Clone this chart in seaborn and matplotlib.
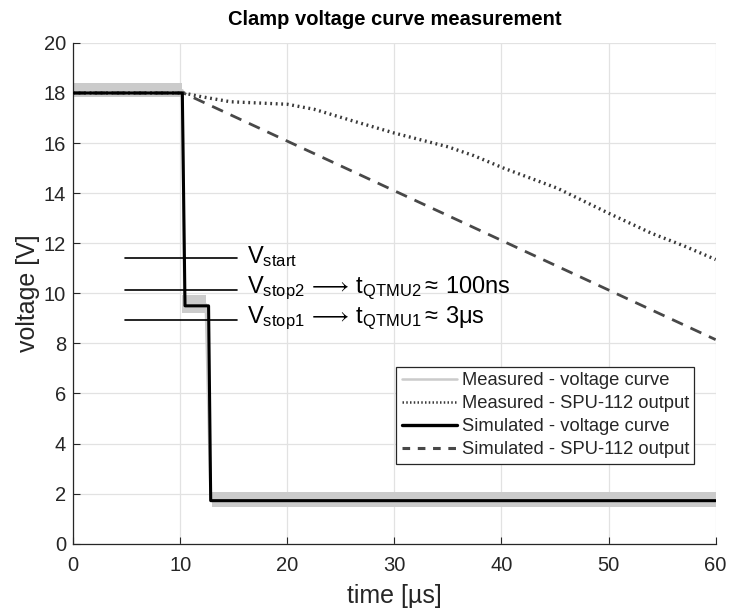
import matplotlib
matplotlib.use("Agg")
import matplotlib.pyplot as plt
import seaborn as sns
import pandas as pd
from matplotlib.lines import Line2D

# --- data -------------------------------------------------------------
# measured clamp voltage: centre of the trace and its noise envelope
meas_t = [0.0, 10.2, 10.4, 12.4, 12.85, 60.0]
meas_v = [18.1, 18.1, 9.55, 9.55, 1.75, 1.75]
band_t = [0.0, 10.2, 10.2, 10.4, 10.4, 12.4, 12.4, 13.0, 13.0, 60.0]
band_hi = [18.4, 18.4, 9.95, 9.95, 9.95, 9.95, 1.3, 1.3, 2.05, 2.05]
band_lo = [17.85, 17.85, 9.2, 9.2, 9.2, 9.2, 1.3, 1.3, 1.45, 1.45]

# simulated clamp voltage
sim_t = [0.0, 10.2, 10.45, 12.65, 12.85, 60.0]
sim_v = [18.0, 18.0, 9.5, 9.5, 1.72, 1.72]

# measured SPU-112 output
spu_meas_t = [0.0, 10.3, 12.0, 14.7, 20.0, 22.5, 26.0, 30.0, 35.0, 37.4,
              40.2, 42.7, 45.2, 50.0, 54.0, 57.0, 60.0]
spu_meas_v = [18.0, 18.0, 17.85, 17.65, 17.55, 17.35, 16.9, 16.4, 15.85, 15.5,
              15.0, 14.6, 14.2, 13.2, 12.4, 11.9, 11.35]

# simulated SPU-112 output
spu_sim_t = [0.0, 10.3, 60.0]
spu_sim_v = [18.0, 18.0, 8.15]

# threshold markers
level_names = [r"$\mathregular{V_{start}}$",
               r"$\mathregular{V_{stop2}\,\longrightarrow\,t_{QTMU2}\approx\,100ns}$",
               r"$\mathregular{V_{stop1}\,\longrightarrow\,t_{QTMU1}\approx\,3\mu s}$"]
level_values = [11.4, 10.15, 8.95]
level_span = [4.85, 15.3]

x_ticks = [0, 10, 20, 30, 40, 50, 60]
y_ticks = [0, 2, 4, 6, 8, 10, 12, 14, 16, 18, 20]

legend_labels = ["Measured - voltage curve", "Measured - SPU-112 output",
                 "Simulated - voltage curve", "Simulated - SPU-112 output"]

# --- style ------------------------------------------------------------
sns.set_theme(style="whitegrid")
plt.rcParams["font.family"] = ["Liberation Sans", "DejaVu Sans"]
plt.rcParams["mathtext.fontset"] = "custom"
plt.rcParams["mathtext.rm"] = "Liberation Sans"
plt.rcParams["mathtext.it"] = "Liberation Sans:italic"
plt.rcParams["mathtext.fallback"] = "stixsans"

fig = plt.figure(figsize=(7.31, 6.13), dpi=100)
ax = fig.add_axes([0.1, 0.113, 0.879, 0.817])

dark = "#262626"
gray_line = "#3a3a3a"
meas_gray = "#cbcbcb"

df_meas = pd.DataFrame({"t": meas_t, "v": meas_v})
df_sim = pd.DataFrame({"t": sim_t, "v": sim_v})
df_spu_m = pd.DataFrame({"t": spu_meas_t, "v": spu_meas_v})
df_spu_s = pd.DataFrame({"t": spu_sim_t, "v": spu_sim_v})

ax.fill_between(band_t, band_lo, band_hi, color=meas_gray, linewidth=0,
                zorder=2)
sns.lineplot(data=df_meas, x="t", y="v", ax=ax, color=meas_gray,
             linewidth=2, estimator=None, sort=False, zorder=2)
sns.lineplot(data=df_spu_m, x="t", y="v", ax=ax, color=gray_line,
             linewidth=2.4, linestyle=(0, (0.55, 1.1)), estimator=None,
             sort=False, zorder=3)
sns.lineplot(data=df_spu_s, x="t", y="v", ax=ax, color="#484848",
             linewidth=2.0, linestyle=(0, (4.3, 3.0)), estimator=None,
             sort=False, zorder=3)
sns.lineplot(data=df_sim, x="t", y="v", ax=ax, color="black",
             linewidth=2.2, estimator=None, sort=False, zorder=4)

for name, val in zip(level_names, level_values):
    ax.plot(level_span, [val, val], color="black", linewidth=1.2, zorder=5)
    ax.text(level_span[1] + 0.9, val + 0.05, name, fontsize=17,
            ha="left", va="center", color="black", zorder=6)

ax.set_xlim(0, 60)
ax.set_ylim(0, 20)
ax.set_xticks(x_ticks)
ax.set_yticks(y_ticks)
ax.tick_params(axis="both", direction="in", length=5, width=0.8,
               colors=dark, labelsize=14.5, pad=9,
               bottom=True, left=True, top=False, right=False)
ax.tick_params(axis="y", pad=5)
ax.grid(True, color="#e2e2e2", linewidth=0.9)
for side in ["top", "right"]:
    ax.spines[side].set_visible(False)
for side in ["left", "bottom"]:
    ax.spines[side].set_color(dark)
    ax.spines[side].set_linewidth(0.9)

ax.set_xlabel("time [µs]", fontsize=18, color=dark, labelpad=6)
ax.set_ylabel("voltage [V]", fontsize=18, color=dark, labelpad=3)
ax.set_title("Clamp voltage curve measurement", fontsize=14.5,
             fontweight="bold", color="black", pad=13)

handles = [
    Line2D([], [], color=meas_gray, linewidth=1.8),
    Line2D([], [], color=gray_line, linewidth=1.8, linestyle=(0, (0.6, 0.9))),
    Line2D([], [], color="black", linewidth=2.4),
    Line2D([], [], color="#484848", linewidth=2.2, linestyle=(0, (2.5, 2.5))),
]
leg = ax.legend(handles, legend_labels, loc="upper right",
                bbox_to_anchor=(0.967, 0.353), fontsize=13.2, frameon=True,
                fancybox=False, framealpha=1, edgecolor=dark,
                handlelength=3.0, handletextpad=0.25, borderpad=0.3,
                labelspacing=0.32, borderaxespad=0)
leg.get_frame().set_linewidth(0.9)

fig.savefig("out.png", dpi=100)
